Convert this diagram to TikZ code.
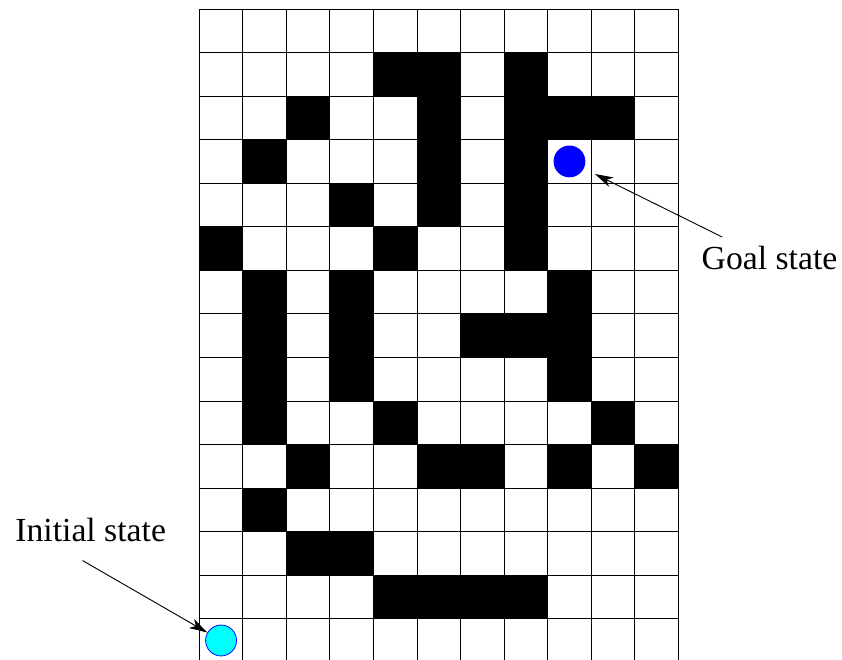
\documentclass[tikz,border=0pt]{standalone}
\usepackage{fontspec}
\setmainfont{Liberation Serif}
\usepackage{tikz}
\usetikzlibrary{arrows.meta}
\definecolor{startcyan}{RGB}{0, 255, 255}
\definecolor{goalblue}{RGB}{0, 0, 255}

\begin{document}
\begin{tikzpicture}[
    >={Stealth[length=0.42cm, width=0.24cm, inset=0.12cm]},
    wall/.style={fill=black},
    state/.style={circle, inner sep=0pt, minimum size=#1},
    lbl/.style={inner sep=0pt, font=\fontsize{22}{26}\selectfont},
    arr/.style={->, line width=0.6pt}
  ]
  \useasboundingbox (-4.576, 0.075) rectangle (14.758, 15.207);
  \clip (-4.576, 0.075) rectangle (14.758, 15.207);

  % obstacles, row counted from the top
  \foreach \r/\cols in {1/{4,5,7}, 2/{2,5,7,8,9}, 3/{1,5,7}, 4/{3,5,7},
                        5/{0,4,7}, 6/{1,3,8}, 7/{1,3,6,7,8}, 8/{1,3,8},
                        9/{1,4,9}, 10/{2,5,6,8,10}, 11/{1}, 12/{2,3},
                        13/{4,5,6,7}}
    \foreach \c in \cols
      \fill[wall] (\c, 14-\r) rectangle ++(1,1);

  \draw[line width=0.6pt] (0,0) grid (11,15);

  \node[state=0.73cm, fill=goalblue] (goal) at (8.5, 11.5) {};
  \node[state=0.71cm, fill=startcyan, draw=goalblue, line width=0.5pt] (init) at (0.5, 0.5) {};

  \node[lbl, anchor=base west] (goallabel) at (11.53, 9.02) {Goal state};
  \node[lbl, anchor=base west] (initlabel) at (-4.23, 2.77) {Initial state};

  \draw[arr, shorten >=0.28cm] ([xshift=0.48cm, yshift=0.2cm]goallabel.north west) -- (goal);
  \draw[arr] ([xshift=1.55cm, yshift=-0.42cm]initlabel.south west) -- (init);
\end{tikzpicture}
\end{document}
